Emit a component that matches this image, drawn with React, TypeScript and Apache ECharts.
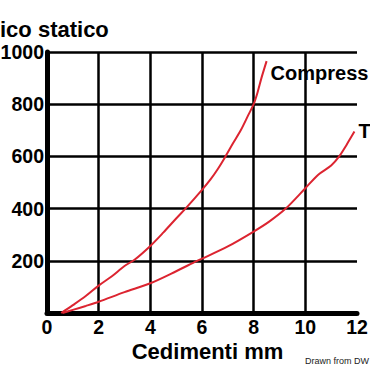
import React, { useEffect, useRef } from "react";
import * as echarts from "echarts";

const xTicks = [0, 2, 4, 6, 8, 10, 12];
const yTicks = [0, 200, 400, 600, 800, 1000];
const seriesNames = ["Compress", "T"];
const titleText = "ico statico";
const xAxisTitle = "Cedimenti mm";
const creditText = "Drawn from DW";
const compressione: [number, number][] = [
  [0.55, 0], [1, 30], [1.5, 65], [2, 105], [2.5, 140], [3, 180], [3.4, 205], [4, 257],
  [4.5, 308], [5, 362], [5.36, 400], [6, 472], [6.33, 512], [6.6, 550], [6.91, 600],
  [7.2, 650], [7.5, 700], [7.8, 760], [8, 800], [8.15, 845], [8.3, 900], [8.5, 965],
];
const trazione: [number, number][] = [
  [0.6, 0], [1, 12], [1.5, 27], [2, 43], [3, 80], [4, 114], [5, 160], [5.81, 200],
  [6, 208], [7, 255], [8, 312], [8.6, 350], [9.24, 400], [10, 478], [10.5, 530],
  [11, 565], [11.31, 600], [11.6, 645], [11.9, 695],
];

const BOLD = "'Liberation Sans', Arial, sans-serif";

export default function App() {
  const ref = useRef<HTMLDivElement>(null);
  useEffect(() => {
    if (!ref.current) return;
    const chart = echarts.init(ref.current, null, { renderer: "svg" });
    const lineStyle = { color: "#dc2430", width: 2 };
    const labelBase = {
      show: true,
      formatter: "{a}",
      color: "#000",
      fontFamily: BOLD,
      fontWeight: "bold",
      fontSize: 20,
    };
    chart.setOption({
      animation: false,
      backgroundColor: "#ffffff",
      grid: { left: 47, right: 13, top: 52, bottom: 54, containLabel: false, outerBoundsMode: "none" },
      xAxis: {
        type: "value",
        min: xTicks[0],
        max: xTicks[xTicks.length - 1],
        interval: 2,
        axisLine: { show: true, lineStyle: { color: "#000", width: 5 } },
        axisTick: { show: false },
        axisLabel: {
          color: "#000",
          fontFamily: BOLD,
          fontWeight: "bold",
          fontSize: 19.5,
          margin: 4,
        },
        splitLine: { show: true, showMinLine: false, showMaxLine: false, lineStyle: { color: "#000", width: 2.5 } },
        name: xAxisTitle,
        nameLocation: "middle",
        nameGap: 27,
        nameMoveOverlap: false,
        nameTextStyle: {
          color: "#000",
          fontFamily: BOLD,
          fontWeight: "bold",
          fontSize: 22,
          padding: [0, 0, 0, 11],
        },
      },
      yAxis: {
        type: "value",
        min: yTicks[0],
        max: yTicks[yTicks.length - 1],
        interval: 200,
        axisLine: { show: true, lineStyle: { color: "#000", width: 5 } },
        axisTick: { show: false },
        axisLabel: {
          color: "#000",
          fontFamily: BOLD,
          fontWeight: "bold",
          fontSize: 19.5,
          margin: 3,
          formatter: (v: number) => (v === 0 ? "" : String(v)),
        },
        splitLine: { show: true, showMinLine: false, lineStyle: { color: "#000", width: 2.5 } },
      },
      series: [
        {
          name: seriesNames[0],
          type: "line",
          data: compressione,
          showSymbol: false,
          smooth: 0.3,
          lineStyle,
          endLabel: { ...labelBase, offset: [0, 12], distance: 4 },
        },
        {
          name: seriesNames[1],
          type: "line",
          data: trazione,
          showSymbol: false,
          smooth: 0.3,
          lineStyle,
          endLabel: { ...labelBase, offset: [0, -1], distance: 4 },
        },
      ],
      graphic: [
        {
          type: "text",
          left: 0,
          top: 18,
          style: {
            text: titleText,
            fill: "#000",
            font: "bold 22px " + BOLD,
          },
        },
        {
          type: "text",
          left: 305,
          top: 356,
          style: {
            text: creditText,
            fill: "#222",
            font: "9px 'Liberation Sans', Arial, sans-serif",
          },
        },
      ],
    });
    return () => chart.dispose();
  }, []);
  return <div ref={ref} style={{ width: 370, height: 367, position: "fixed", left: 0, top: 0 }} />;
}
